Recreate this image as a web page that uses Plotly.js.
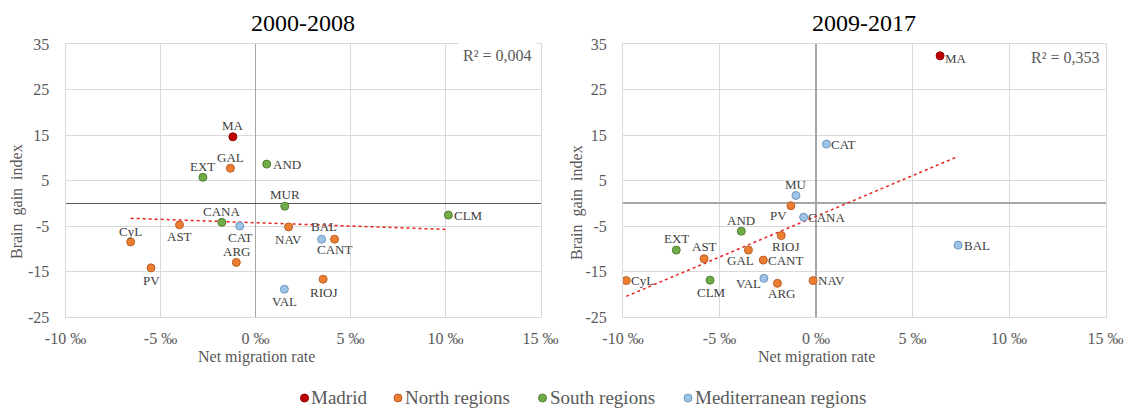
<!DOCTYPE html>
<html>
<head>
<meta charset="utf-8">
<script src="https://cdn.plot.ly/plotly-3.0.1.min.js"></script>
<style>
html,body{margin:0;padding:0;background:#fff;overflow:hidden;}
#chart{width:1128px;height:409px;}
</style>
</head>
<body>
<div id="chart"></div>
<script>
// ---------- data ----------
const periods = ['2000-2008', '2009-2017'];
const groupNames = ['Madrid', 'North regions', 'South regions', 'Mediterranean regions'];

const xTickVals = [-10, -5, 0, 5, 10, 15];
const xTickText = ['-10 ‰', '-5 ‰', '0 ‰', '5 ‰', '10 ‰', '15 ‰'];
const yTickVals = [-25, -15, -5, 5, 15, 25, 35];
const yTickText = ['-25', '-15', '-5', '5', '15', '25', '35'];

// 2000-2008
const labels1 = ['MA', 'GAL', 'EXT', 'AND', 'MUR', 'CLM', 'CANA', 'CAT', 'AST', 'NAV', 'CyL', 'BAL', 'CANT', 'ARG', 'PV', 'RIOJ', 'VAL'];
const group1 = ['Madrid', 'North regions', 'South regions', 'South regions', 'South regions', 'South regions', 'South regions',
  'Mediterranean regions', 'North regions', 'North regions', 'North regions', 'Mediterranean regions', 'North regions',
  'North regions', 'North regions', 'North regions', 'Mediterranean regions'];
const migration1 = [-1.19, -1.32, -2.77, 0.59, 1.54, 10.15, -1.77, -0.83, -4.0, 1.74, -6.57, 3.48, 4.16, -1.01, -5.5, 3.56, 1.52];
const brainGain1 = [14.6, 7.7, 5.7, 8.6, -0.65, -2.6, -4.2, -5.0, -4.75, -5.2, -8.5, -7.9, -7.9, -13.0, -14.2, -16.7, -18.9];

// 2009-2017
const labels2 = ['MA', 'CAT', 'MU', 'PV', 'CANA', 'AND', 'RIOJ', 'BAL', 'EXT', 'GAL', 'AST', 'CANT', 'VAL', 'CyL', 'CLM', 'NAV', 'ARG'];
const group2 = ['Madrid', 'Mediterranean regions', 'Mediterranean regions', 'North regions', 'Mediterranean regions',
  'South regions', 'North regions', 'Mediterranean regions', 'South regions', 'North regions', 'North regions',
  'North regions', 'Mediterranean regions', 'North regions', 'South regions', 'North regions', 'North regions'];
const migration2 = [6.43, 0.54, -1.04, -1.3, -0.64, -3.87, -1.8, 7.36, -7.24, -3.5, -5.8, -2.73, -2.7, -9.83, -5.49, -0.15, -2.0];
const brainGain2 = [32.4, 13.0, 1.7, -0.55, -3.05, -6.15, -7.1, -9.2, -10.3, -10.3, -12.2, -12.5, -16.5, -17.0, -16.9, -17.0, -17.6];

// ---------- styling (kept apart from data) ----------
const SERIF = 'Liberation Serif, Times New Roman, serif';
const groupColors = ['#C00000', '#ED7D31', '#70AD47', '#9DC3E6'];
const groupLines = ['#8E0000', '#B9612A', '#527F35', '#6F98C0'];
// label placement per point: [horizontal anchor, x offset px, y offset px (up +)]
const labelPlace1 = [['center', 0, 11], ['center', 0, 11], ['center', 0, 11], ['left', 5, 0], ['center', 0, 12],
  ['left', 5, 0], ['center', 0, 11], ['center', 1, -11], ['center', 0, -12], ['center', 0, -13], ['center', 0, 10.5],
  ['center', 2, 13], ['center', 0, -10], ['center', 0, 10.5], ['center', 0, -12.5], ['center', 0, -13], ['center', 0, -12]];
const labelPlace2 = [['left', 4, -3], ['left', 4, 0], ['center', 0, 11], ['center', -12, -10], ['left', 3, 0],
  ['center', 0, 11], ['center', 4, -11], ['left', 5, 0], ['center', 0, 12], ['center', -8, -10], ['center', 0, 12],
  ['left', 4, 0], ['right', -2, -5.5], ['left', 4, 0], ['center', 1, -12], ['left', 4, 0], ['center', 4, -10]];
// legend layout (pixel positions of the symbol centres and of the text starts)
const legendDotX = [304.5, 398, 542.5, 688];
const legendTextX = [310, 404, 548.5, 694];
const legendY = 397;

function fit(xs, ys) {
  const n = xs.length;
  const mx = xs.reduce((a, b) => a + b, 0) / n;
  const my = ys.reduce((a, b) => a + b, 0) / n;
  let sxy = 0, sxx = 0, syy = 0;
  for (let i = 0; i < n; i++) {
    sxy += (xs[i] - mx) * (ys[i] - my);
    sxx += (xs[i] - mx) ** 2;
    syy += (ys[i] - my) ** 2;
  }
  const b = sxy / sxx;
  return { b: b, a: my - b * mx, r2: (sxy * sxy) / (sxx * syy) };
}

const labelFont = { family: SERIF, size: 13, color: '#404040' };

function buildChart(labels, groups, xs, ys, place, xa, ya) {
  const f = fit(xs, ys);
  const xmin = Math.min(...xs), xmax = Math.max(...xs);
  const traces = [{
    type: 'scatter', mode: 'lines', x: [xmin, xmax], y: [f.a + f.b * xmin, f.a + f.b * xmax],
    xaxis: xa, yaxis: ya, showlegend: false, hoverinfo: 'skip',
    line: { color: '#E8231C', width: 1.5, dash: 'dot' }
  }];
  groupNames.forEach((g, gi) => {
    const idx = groups.map((v, i) => (v === g ? i : -1)).filter(i => i >= 0);
    traces.push({
      type: 'scatter', mode: 'markers', name: g, showlegend: false,
      x: idx.map(i => xs[i]), y: idx.map(i => ys[i]), text: idx.map(i => labels[i]),
      xaxis: xa, yaxis: ya, cliponaxis: false, hoverinfo: 'x+y+text',
      marker: { size: 8, color: groupColors[gi], line: { width: 1, color: groupLines[gi] } }
    });
  });
  const notes = labels.map((lab, i) => ({
    text: lab, x: xs[i], y: ys[i], xref: xa, yref: ya, showarrow: false,
    xanchor: place[i][0], yanchor: 'middle', xshift: place[i][1], yshift: place[i][2],
    font: labelFont, borderpad: 0
  }));
  return { traces: traces, notes: notes, r2: f.r2 };
}

const c1 = buildChart(labels1, group1, migration1, brainGain1, labelPlace1, 'x', 'y');
const c2 = buildChart(labels2, group2, migration2, brainGain2, labelPlace2, 'x2', 'y2');
const data = c1.traces.concat(c2.traces);

const W = 1128, H = 409;
const px = v => v / W;
const py = v => 1 - v / H;

function xAxis(domain, zc) {
  return {
    domain: domain, range: [-10, 15], tickvals: xTickVals, ticktext: xTickText,
    tickfont: { family: SERIF, size: 16, color: '#595959' },
    showgrid: true, gridcolor: '#D9D9D9', gridwidth: 1,
    showline: true, mirror: true, linecolor: '#D9D9D9', linewidth: 1,
    zeroline: true, zerolinecolor: zc, zerolinewidth: 1.5,
    ticks: '', ticklabelstandoff: 7, fixedrange: true, automargin: false
  };
}
function yAxis(anchor, zc, zw) {
  return {
    domain: [py(317), py(44)], range: [-25, 35], tickvals: yTickVals, ticktext: yTickText, anchor: anchor,
    tickfont: { family: SERIF, size: 16, color: '#595959' },
    showgrid: true, gridcolor: '#D9D9D9', gridwidth: 1,
    showline: true, mirror: true, linecolor: '#D9D9D9', linewidth: 1,
    zeroline: true, zerolinecolor: zc, zerolinewidth: zw,
    ticks: '', ticklabelstandoff: 12, fixedrange: true, automargin: false
  };
}

const fmtR2 = r => 'R² = ' + r.toFixed(3).replace('.', ',');

const titleFont = { family: SERIF, size: 24, color: '#000000' };
const axisTitleFont = { family: SERIF, size: 16, color: '#595959' };
const legendFont = { family: SERIF, size: 19, color: '#595959' };

const annotations = [
  { text: periods[0], x: px(303), y: py(23), xref: 'paper', yref: 'paper', xanchor: 'center', yanchor: 'middle', showarrow: false, font: titleFont },
  { text: periods[1], x: px(864), y: py(23), xref: 'paper', yref: 'paper', xanchor: 'center', yanchor: 'middle', showarrow: false, font: titleFont },
  { text: 'Net migration rate', x: px(256), y: py(357), xref: 'paper', yref: 'paper', xanchor: 'center', yanchor: 'middle', showarrow: false, font: axisTitleFont },
  { text: 'Net migration rate', x: px(816), y: py(357), xref: 'paper', yref: 'paper', xanchor: 'center', yanchor: 'middle', showarrow: false, font: axisTitleFont },
  { text: 'Brain&nbsp; gain&nbsp; index', x: px(17), y: py(202), xref: 'paper', yref: 'paper', xanchor: 'center', yanchor: 'middle', textangle: -90, showarrow: false, font: axisTitleFont },
  { text: 'Brain&nbsp; gain&nbsp; index', x: px(577), y: py(202), xref: 'paper', yref: 'paper', xanchor: 'center', yanchor: 'middle', textangle: -90, showarrow: false, font: axisTitleFont },
  { text: fmtR2(c1.r2), x: px(537), y: py(55), xref: 'paper', yref: 'paper', xanchor: 'right', yanchor: 'middle', showarrow: false,
    font: { family: SERIF, size: 16, color: '#595959' }, bgcolor: '#FFFFFF', borderpad: 4 },
  { text: fmtR2(c2.r2), x: px(1102), y: py(57), xref: 'paper', yref: 'paper', xanchor: 'right', yanchor: 'middle', showarrow: false,
    font: { family: SERIF, size: 16, color: '#595959' } }
].concat(c1.notes, c2.notes);

// legend built from the group names (symbol + text)
const shapes = [];
groupNames.forEach((g, gi) => {
  annotations.push({ text: g, x: px(legendTextX[gi]), y: py(legendY), xref: 'paper', yref: 'paper',
    xanchor: 'left', yanchor: 'middle', showarrow: false, font: legendFont, borderpad: 0 });
  shapes.push({ type: 'circle', xref: 'paper', yref: 'paper', xsizemode: 'pixel', ysizemode: 'pixel',
    xanchor: px(legendDotX[gi]), yanchor: py(legendY + 1), x0: -4, x1: 4, y0: -4, y1: 4,
    fillcolor: groupColors[gi], line: { color: groupLines[gi], width: 1 } });
});

const layout = {
  width: W, height: H,
  margin: { l: 0, r: 0, t: 0, b: 0, autoexpand: false },
  paper_bgcolor: '#FFFFFF', plot_bgcolor: '#FFFFFF',
  showlegend: false,
  xaxis: xAxis([px(65.5), px(540.5)], '#A6A6A6'),
  yaxis: yAxis('x', '#595959', 1.3),
  xaxis2: xAxis([px(623), px(1105.5)], '#A6A6A6'),
  yaxis2: yAxis('x2', '#A6A6A6', 1.8),
  annotations: annotations,
  shapes: shapes
};

Plotly.newPlot('chart', data, layout, { displayModeBar: false, staticPlot: true });
</script>
</body>
</html>
